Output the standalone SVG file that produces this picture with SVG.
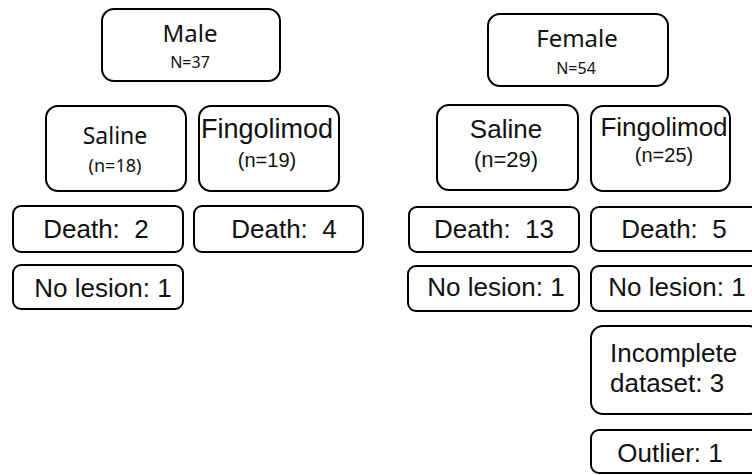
<svg xmlns="http://www.w3.org/2000/svg" width="752" height="475" viewBox="0 0 752 475">
<style>
.box{fill:#fff;stroke:#000;stroke-width:2}
.c{font-family:"Noto Sans","Open Sans",sans-serif;fill:#111;text-anchor:middle}
.a{font-family:"Liberation Sans",Arial,sans-serif;fill:#111;text-anchor:middle}
.st{text-anchor:start}
.s26{font-size:26px}
</style>
<rect width="752" height="475" fill="#fff"/>
<g id="connectors"></g>
<g id="male">
<rect class="box" x="102" y="9" width="178" height="72" rx="12"/>
<text class="c" x="190" y="42" font-size="24">Male</text>
<text class="c" x="190" y="68" font-size="16">N=37</text>
</g>
<g id="female">
<rect class="box" x="488" y="14" width="180" height="72" rx="12"/>
<text class="c" x="577" y="47" font-size="24">Female</text>
<text class="c" x="576" y="74" font-size="16">N=54</text>
</g>
<g id="male-saline">
<rect class="box" x="46" y="106" width="140" height="85" rx="12"/>
<text class="c" x="115" y="144" font-size="23">Saline</text>
<text class="c" x="115" y="172" font-size="18">(n=18)</text>
</g>
<g id="male-fingolimod">
<rect class="box" x="199" y="106" width="140" height="85" rx="12"/>
<text class="a" x="267" y="138" font-size="27">Fingolimod</text>
<text class="a" x="267" y="167" font-size="20">(n=19)</text>
</g>
<g id="female-saline">
<rect class="box" x="437" y="105" width="141" height="85" rx="12"/>
<text class="a s26" x="506" y="138">Saline</text>
<text class="a" x="506" y="167" font-size="22">(n=29)</text>
</g>
<g id="female-fingolimod">
<rect class="box" x="591" y="106" width="139" height="85" rx="12"/>
<text class="a s26" x="664" y="136">Fingolimod</text>
<text class="a" x="664" y="162" font-size="20">(n=25)</text>
</g>
<g id="male-saline-death">
<rect class="box" x="13" y="206" width="170" height="46" rx="8"/>
<text class="a s26" x="96" y="238" xml:space="preserve">Death:  2</text>
</g>
<g id="male-fingolimod-death">
<rect class="box" x="194" y="206" width="169" height="46" rx="8"/>
<text class="a s26" x="284" y="238" xml:space="preserve">Death:  4</text>
</g>
<g id="male-saline-nolesion">
<rect class="box" x="13" y="265" width="170" height="44" rx="8"/>
<text class="a s26" x="103" y="297">No lesion: 1</text>
</g>
<g id="female-saline-death">
<rect class="box" x="409" y="207" width="170" height="45" rx="8"/>
<text class="a s26" x="494" y="238" xml:space="preserve">Death:  13</text>
</g>
<g id="female-fingolimod-death">
<rect class="box" x="591" y="207" width="170" height="44" rx="8"/>
<text class="a s26" x="674" y="238" xml:space="preserve">Death:  5</text>
</g>
<g id="female-saline-nolesion">
<rect class="box" x="408" y="266" width="171" height="45" rx="8"/>
<text class="a s26" x="496" y="296">No lesion: 1</text>
</g>
<g id="female-fingolimod-nolesion">
<rect class="box" x="591" y="266" width="170" height="45" rx="8"/>
<text class="a s26" x="677" y="296">No lesion: 1</text>
</g>
<g id="female-fingolimod-incomplete">
<rect class="box" x="591" y="326" width="170" height="88" rx="12"/>
<text class="a s26 st" x="610" y="362">Incomplete</text>
<text class="a s26 st" x="610" y="392">dataset: 3</text>
</g>
<g id="female-fingolimod-outlier">
<rect class="box" x="591" y="430" width="170" height="43" rx="8"/>
<text class="a s26" x="670" y="462">Outlier: 1</text>
</g>
</svg>
